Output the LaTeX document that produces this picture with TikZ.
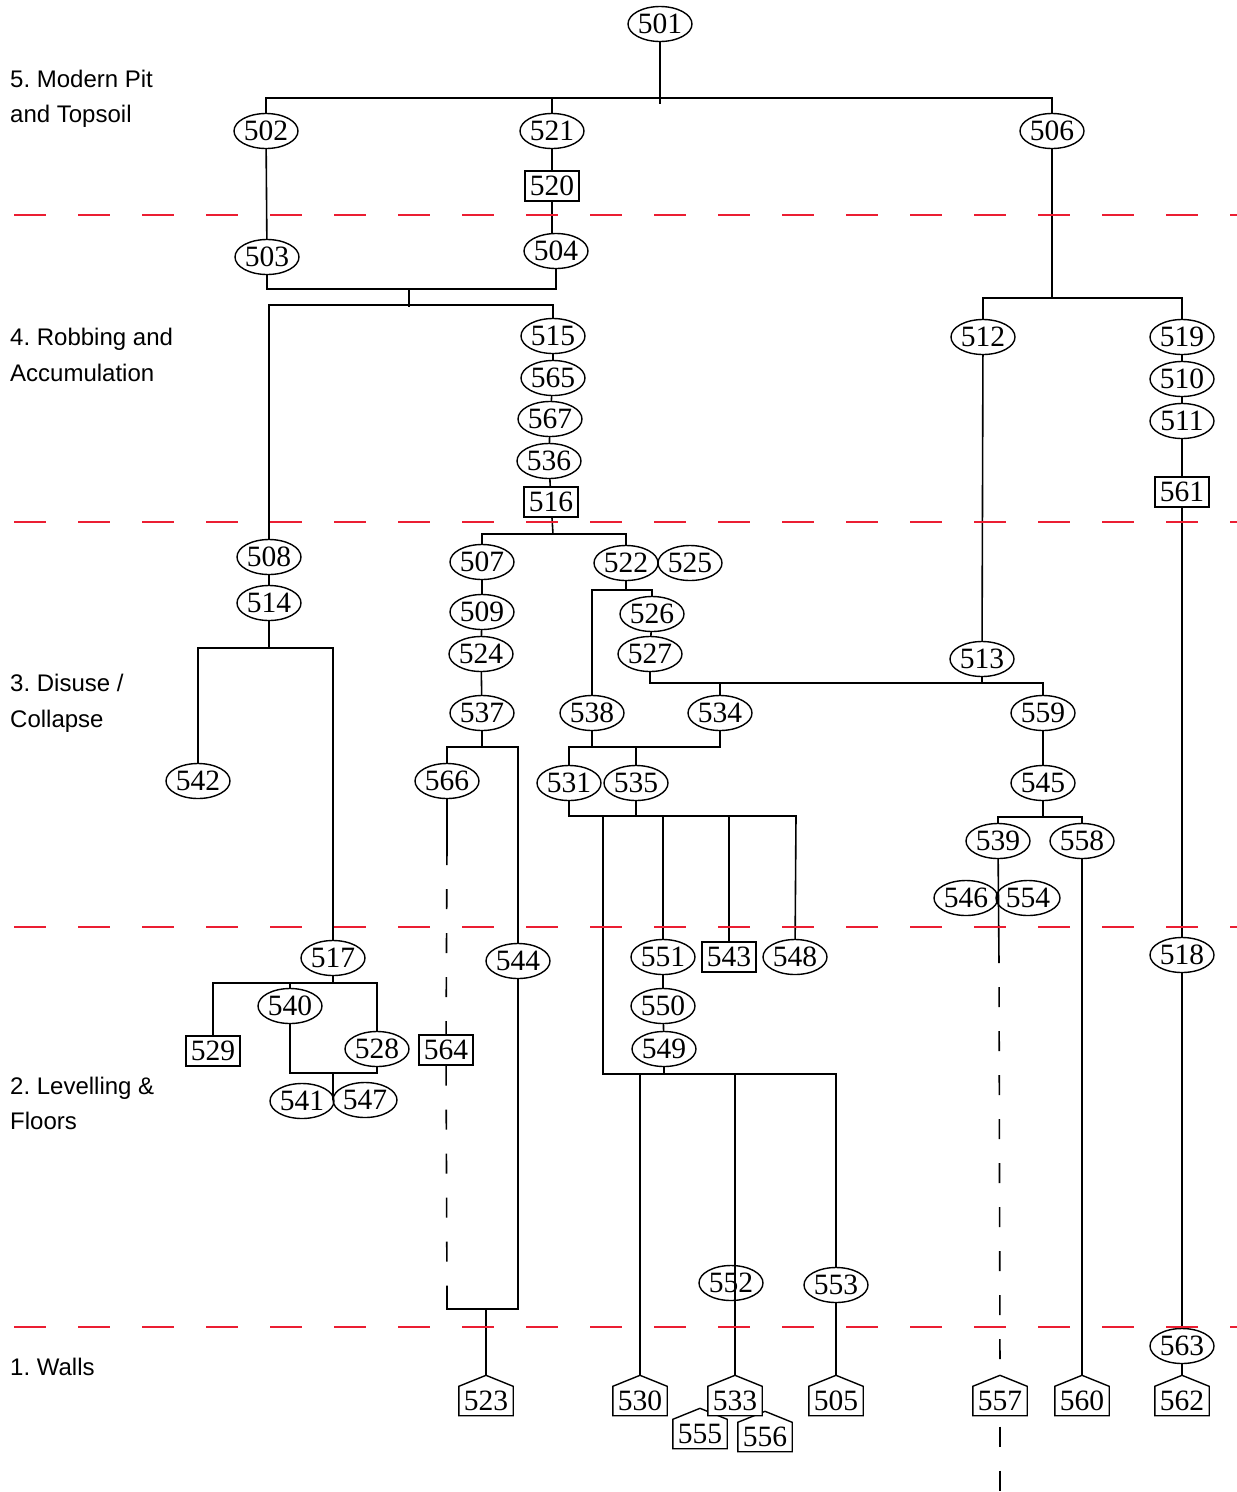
\documentclass[tikz,border=0pt]{standalone}
\usepackage{fontspec}
\setmainfont{Liberation Serif}
\newfontfamily\lblfont{Liberation Sans}
\usetikzlibrary{shapes.geometric}
\pgfdeclarelayer{bg}
\pgfsetlayers{bg,main}
\definecolor{sepred}{RGB}{235,30,50}
\frenchspacing
\begin{document}
\begin{tikzpicture}[x=1pt,y=-1pt,
  numf/.style={font=\fontsize{29.5}{29.5}\selectfont},
  ov/.style={ellipse,draw,line width=1.4pt,minimum width=64pt,minimum height=35pt,inner sep=0pt,numf},
  bx/.style={rectangle,draw,line width=1.4pt,minimum width=54pt,minimum height=30pt,inner sep=0pt,numf},
  hs/.style={rectangle,minimum width=54pt,minimum height=29pt,inner sep=0pt,numf},
  ln/.style={line width=1.6pt},
  lt/.style={line width=1.2pt},
  dl/.style={line width=1.6pt,dash pattern=on 20pt off 24pt},
  sepline/.style={draw=sepred,line width=1.6pt,dash pattern=on 32pt off 32pt},
  lbl/.style={anchor=base west,inner sep=0pt,font=\lblfont\fontsize{24}{24}\selectfont}]
\useasboundingbox (0,0) rectangle (1237,1492);

% ---------- phase labels
\node[lbl] (l5a) at (10,87) {5. Modern Pit};
\node[lbl] (l5b) at (10,122) {and Topsoil};
\node[lbl] (l4a) at (10,345) {4. Robbing and};
\node[lbl] (l4b) at (10,381) {Accumulation};
\node[lbl] (l3a) at (10,691) {3. Disuse /};
\node[lbl] (l3b) at (10,727) {Collapse};
\node[lbl] (l2a) at (10,1094) {2. Levelling \&};
\node[lbl] (l2b) at (10,1129) {Floors};
\node[lbl] (l1) at (10,1375) {1. Walls};

% ---------- nodes
\node[ov] (n501) at (660,24) {501};
\node[ov] (n502) at (266,131) {502};
\node[ov] (n521) at (552,131) {521};
\node[ov] (n506) at (1052,131) {506};
\node[bx] (n520) at (552,186) {520};
\node[ov] (n503) at (267,257) {503};
\node[ov] (n504) at (556,251) {504};
\node[ov] (n515) at (553,336) {515};
\node[ov] (n565) at (553,378) {565};
\node[ov] (n567) at (550,419) {567};
\node[ov] (n536) at (549,461) {536};
\node[bx] (n516) at (551,502) {516};
\node[ov] (n512) at (983,337) {512};
\node[ov] (n519) at (1182,337) {519};
\node[ov] (n510) at (1182,379) {510};
\node[ov] (n511) at (1182,421) {511};
\node[bx] (n561) at (1182,492) {561};
\node[ov] (n508) at (269,557) {508};
\node[ov] (n514) at (269,603) {514};
\node[ov] (n542) at (198,781) {542};
\node[ov] (n507) at (482,562) {507};
\node[ov] (n509) at (482,612) {509};
\node[ov] (n524) at (481,654) {524};
\node[ov] (n537) at (482,713) {537};
\node[ov] (n522) at (626,563) {522};
\node[ov] (n525) at (690,563) {525};
\node[ov] (n526) at (652,614) {526};
\node[ov] (n527) at (650,654) {527};
\node[ov] (n538) at (592,713) {538};
\node[ov] (n534) at (720,713) {534};
\node[ov] (n531) at (569,783) {531};
\node[ov] (n535) at (636,783) {535};
\node[ov] (n566) at (447,781) {566};
\node[ov] (n513) at (982,659) {513};
\node[ov] (n559) at (1043,713) {559};
\node[ov] (n545) at (1043,783) {545};
\node[ov] (n539) at (998,841) {539};
\node[ov] (n558) at (1082,841) {558};
\node[ov] (n546) at (966,898) {546};
\node[ov] (n554) at (1028,898) {554};
\node[ov] (n517) at (333,958) {517};
\node[ov] (n540) at (290,1006) {540};
\node[bx] (n529) at (213,1051) {529};
\node[ov] (n528) at (377,1049) {528};
\node[ov] (n541) at (302,1101) {541};
\node[ov] (n547) at (365,1100) {547};
\node[bx] (n564) at (446,1050) {564};
\node[ov] (n544) at (518,961) {544};
\node[ov] (n551) at (663,957) {551};
\node[bx] (n543) at (729,957) {543};
\node[ov] (n548) at (795,957) {548};
\node[ov] (n550) at (663,1006) {550};
\node[ov] (n549) at (664,1049) {549};
\node[ov] (n518) at (1182,955) {518};
\node[ov] (n552) at (731,1283) {552};
\node[ov] (n553) at (836,1285) {553};
\node[ov] (n563) at (1182,1346) {563};
% wall (house) nodes
\node[hs] (h523) at (486,1401) {523};
\node[hs] (h530) at (640,1401) {530};
\node[hs] (h533) at (735,1401) {533};
\node[hs] (h505) at (836,1401) {505};
\node[hs] (h557) at (1000,1401) {557};
\node[hs] (h560) at (1082,1401) {560};
\node[hs] (h562) at (1182,1401) {562};
\node[hs] (h555) at (700,1434) {555};
\node[hs] (h556) at (765,1437) {556};

\begin{pgfonlayer}{bg}
\foreach \h in {h523,h530,h505,h557,h560,h562,h555,h556,h533}
  \draw[line width=1.4pt,fill=white] (\h.south west) -- (\h.north west) -- ([yshift=11pt]\h.north) -- (\h.north east) -- (\h.south east) -- cycle;
\end{pgfonlayer}

% ---------- junction coordinates
\coordinate (s501) at (660,104);
\coordinate (b501) at (660,98);
\coordinate (b503) at (409,289);
\coordinate (s503) at (409,307);
\coordinate (b508) at (409,305);
\coordinate (b506) at (1052,298);
\coordinate (b514) at (269,648);
\coordinate (b516) at (553,534);
\coordinate (b537) at (482,747);
\coordinate (d566a) at (447,845);
\coordinate (d566b) at (447,1298);
\coordinate (b523) at (486,1309);
\coordinate (b522) at (626,590);
\coordinate (b527) at (1043,683);
\coordinate (b538) at (720,747);
\coordinate (b531) at (796,816);
\coordinate (v603) at (603,816);
\coordinate (b549) at (836,1074);
\coordinate (b545) at (1043,817);
\coordinate (d539) at (999,963);
\coordinate (d557) at (1000,1492);
\coordinate (b517) at (333,983);
\coordinate (b540) at (377,1073);
\coordinate (s540) at (333,1100);

% ---------- connectors
\draw[ln] (n501) -- (s501);
\draw[ln] (n502) |- (b501) -| (n506);
\draw[ln] (n521) -- (n521 |- b501);
\draw[ln] (n521) -- (n520);
\draw[ln] (n520.south) -- (n520.south |- n504.north);
\draw[ln] (n502) -- (n503);
\draw[ln] (n503) |- (b503) -| (n504);
\draw[ln] (b503) -- (s503);
\draw[ln] (n508) |- (b508) -| (n515);
\draw[ln] (n515) -- (n565) -- (n567) -- (n536) -- (n516);
\draw[ln] (n506) -- (b506);
\draw[ln] (n512) |- (b506) -| (n519);
\draw[ln] (n519) -- (n510) -- (n511) -- (n561) -- (n518) -- (n563) -- ([yshift=11pt]h562.north);
\draw[ln] (n512) -- (n513);
\draw[ln] (n508) -- (n514);
\draw[ln] (n514) -- (b514);
\draw[ln] (n542) |- (b514) -| (n517);
\draw[ln] (n516) -- (b516);
\draw[ln] (n507) |- (b516) -| (n522);
\draw[ln] (n507) -- (n509) -- (n524) -- (n537);
\draw[ln] (n537) -- (b537);
\draw[ln] (n566) |- (b537) -| (n544);
\draw[ln] (n566) -- (d566a);
\draw[dl] (d566a) -- (n564);
\draw[dl] (n564) -- (d566b);
\draw[ln] (d566b) |- (b523) -| (n544);
\draw[ln] (b523) -- ([yshift=11pt]h523.north);
\draw[ln] (n522) -- (b522);
\draw[ln] (n538) |- (b522) -| (n526);
\draw[ln] (n526) -- (n527);
\draw[ln] (n527) |- (b527) -- (n559);
\draw[ln] (n534) -- (n534 |- b527);
\draw[ln] (n513) -- (n513 |- b527);
\draw[ln] (n538) -- (n538 |- b538);
\draw[ln] (n531) |- (b538) -- (n534);
\draw[ln] (n535) -- (n535 |- b538);
\draw[ln] (n531) |- (b531) -- (n548);
\draw[ln] (n535) -- (n535 |- b531);
\draw[ln] (n551) -- (n551 |- b531);
\draw[ln] (n543) -- (n543 |- b531);
\draw[ln] (v603) |- (b549) -- (n553);
\draw[ln] (n551) -- (n550) -- (n549) -- (n549 |- b549);
\draw[ln] (h530 |- b549) -- ([yshift=11pt]h530.north);
\draw[ln] (h533 |- b549) -- ([yshift=11pt]h533.north);
\draw[ln] (n553) -- ([yshift=11pt]h505.north);
\draw[ln] (n559) -- (n545) -- (n545 |- b545);
\draw[ln] (n539) |- (b545) -| (n558);
\draw[ln] (n539) -- (d539);
\draw[dl,dash phase=20pt] (d539) -- ([yshift=11pt]h557.north);
\draw[dl,dash phase=33pt] (h557) -- (d557);
\draw[ln] (n558) -- ([yshift=11pt]h560.north);
\draw[lt] (n517) -- (b517);
\draw[lt] (n529) |- (b517) -| (n528);
\draw[lt] (n540) -- (n540 |- b517);
\draw[lt] (n540) |- (b540) -- (n528);
\draw[lt] (b540 -| n517) -- (s540);

% ---------- phase separators
\coordinate (r1a) at (14,215); \coordinate (r1b) at (1237,215);
\coordinate (r2a) at (14,522); \coordinate (r2b) at (1237,522);
\coordinate (r3a) at (14,927); \coordinate (r3b) at (1237,927);
\coordinate (r4a) at (14,1327); \coordinate (r4b) at (1237,1327);
\draw[sepline] (r1a) -- (r1b);
\draw[sepline] (r2a) -- (r2b);
\draw[sepline] (r3a) -- (r3b);
\draw[sepline] (r4a) -- (r4b);
\end{tikzpicture}
\end{document}
